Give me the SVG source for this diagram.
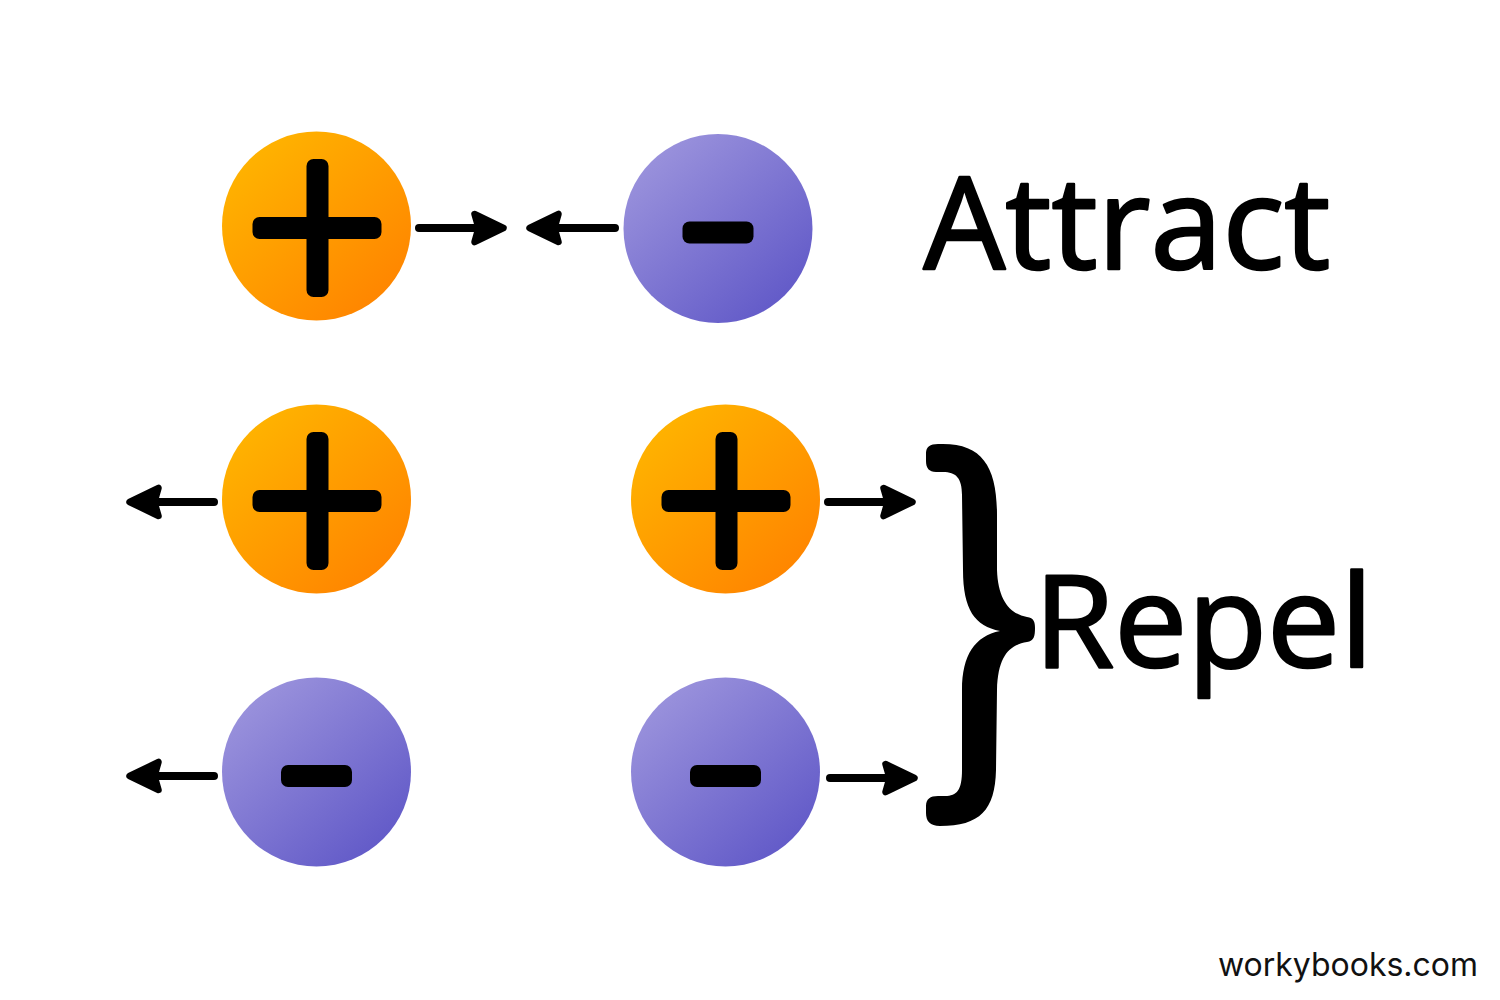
<svg xmlns="http://www.w3.org/2000/svg" width="1500" height="1000" viewBox="0 0 1500 1000">
<style>
.label{font-family:"Open Sans","Noto Sans",sans-serif;fill:#000}
.big{font-size:128px;stroke:#000;stroke-width:2.5px;stroke-linejoin:round}
.credit{font-family:Inter,"Liberation Sans",sans-serif;font-size:32px;fill:#111}
.shaft{stroke:#000;stroke-width:8;stroke-linecap:round;fill:none}
.glyph{fill:#000}
</style>
<defs>
<linearGradient id="orange" x1="0.15" y1="0.1" x2="0.85" y2="0.9"><stop offset="0" stop-color="#ffb300"/><stop offset="1" stop-color="#ff8500"/></linearGradient>
<linearGradient id="purple" x1="0.15" y1="0.1" x2="0.85" y2="0.9"><stop offset="0" stop-color="#9a92dc"/><stop offset="1" stop-color="#625ac8"/></linearGradient>
<g id="plus"><circle r="94.5" fill="url(#orange)"/><rect x="-64" y="-9" width="129" height="22" rx="7" class="glyph"/><rect x="-10" y="-67" width="22" height="138" rx="7" class="glyph"/></g>
<g id="minus"><circle r="94.5" fill="url(#purple)"/><rect x="-35.500" y="-7" width="71" height="22" rx="7" class="glyph"/></g>
<path id="head" d="M-13 -14 L16 0 L-13 14 L-9 0 Z" stroke="#000" stroke-width="6.500" stroke-linejoin="round"/>
</defs>
<rect width="1500" height="1000" fill="#fff"/>
<g id="connectors">
<g id="a1"><path class="shaft" d="M419 228H490"/><use href="#head" x="487.500" y="228"/></g>
<g id="a2"><path class="shaft" d="M615 228H545"/><use href="#head" transform="translate(545.500 228) rotate(180)"/></g>
<g id="a3"><path class="shaft" d="M214 502H145"/><use href="#head" transform="translate(145.500 502) rotate(180)"/></g>
<g id="a4"><path class="shaft" d="M828 502H898"/><use href="#head" x="896.500" y="502"/></g>
<g id="a5"><path class="shaft" d="M214 776H145"/><use href="#head" transform="translate(145.500 776) rotate(180)"/></g>
<g id="a6"><path class="shaft" d="M830 778H900"/><use href="#head" x="898.500" y="778"/></g>
</g>
<g id="n-plus-top"><use href="#plus" x="316.500" y="226"/></g>
<g id="n-minus-top"><use href="#minus" x="718" y="228.500"/></g>
<g id="n-plus-left"><use href="#plus" x="316.500" y="499"/></g>
<g id="n-plus-right"><use href="#plus" x="725.500" y="499"/></g>
<g id="n-minus-left"><use href="#minus" x="316.500" y="772"/></g>
<g id="n-minus-right"><use href="#minus" x="725.500" y="772"/></g>
<g id="brace"><path fill="#000" d="M938 444 C982 442 997 466 997 515 L997 570 C998 600 1010 614 1027 617 C1034 618 1035 622 1035 628 C1035 636 1034 641 1027 642 C1010 645 998 655 997 690 L996 770 C995 810 980 826 940 826 C930 826 926 821 926 813 L926 806 C926 799 930 796 938 796 L945 796 C957 796 962 790 962 770 L962 690 C962 655 975 636 1000 631 C975 626 963 610 963 570 L962 495 C962 478 956 472 943 472 L936 472 C929 472 926 468 926 461 L926 453 C926 447 930 444 938 444 Z"/></g>
<g id="t-attract"><text class="label big" x="923.500" y="269" textLength="407" lengthAdjust="spacingAndGlyphs">Attract</text></g>
<g id="t-repel"><text class="label big" x="1034" y="667" textLength="339" lengthAdjust="spacingAndGlyphs">Repel</text></g>
<g id="t-credit"><text class="credit" x="1218" y="976" textLength="260" lengthAdjust="spacingAndGlyphs">workybooks.com</text></g>
</svg>
